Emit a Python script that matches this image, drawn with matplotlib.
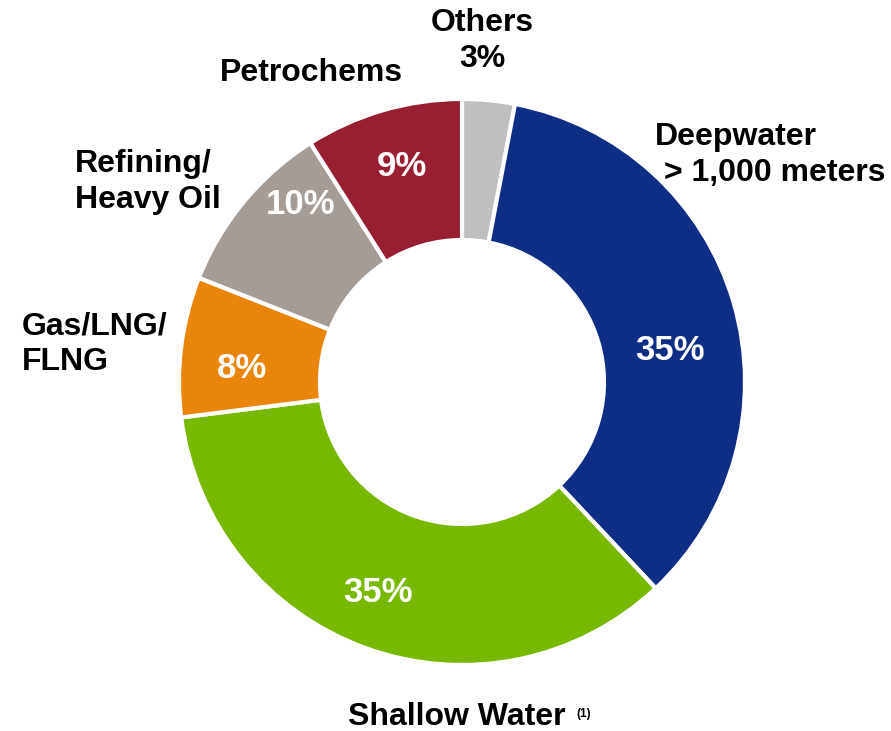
import matplotlib
matplotlib.use('Agg')
import matplotlib.pyplot as plt

# segment data, clockwise from 12 o'clock
segments = ['Others', 'Deepwater', 'Shallow Water', 'Gas/LNG/FLNG',
            'Refining/Heavy Oil', 'Petrochems']
shares = [3, 35, 35, 8, 10, 9]
colours = ['#BFBFBF', '#0E2D84', '#77B800', '#E8850A', '#A59D95', '#981E32']

W, H = 891, 731
plt.rcParams['font.family'] = ['Liberation Sans', 'DejaVu Sans']

fig = plt.figure(figsize=(W / 100.0, H / 100.0), dpi=100)
ax = fig.add_axes([0, 0, 1, 1])

ax.pie(shares, colors=colours, startangle=90, counterclock=False,
       center=(462, H - 382), radius=283, frame=True,
       wedgeprops=dict(width=141, edgecolor='white', linewidth=3))
ax.set_xlim(0, W)
ax.set_ylim(0, H)
ax.set_aspect('equal')
ax.axis('off')

def px(x, y):
    return x, H - y

# percentages inside the ring (pixel positions)
inner_pos = [None, (670, 350), (378, 593), (242, 368), (300, 205), (402, 167)]
for val, pos in zip(shares, inner_pos):
    if pos is None:
        continue
    ax.text(*px(*pos), '%d%%' % val, color='white', fontsize=25,
            fontweight='bold', ha='center', va='center')

# outer labels
lab = dict(fontsize=23, fontweight='bold', color='black', linespacing=1.25)
ax.text(*px(482, 41), 'Others\n%d%%' % shares[0], ha='center', va='center',
        **lab)
ax.text(*px(655, 155), 'Deepwater\n > 1,000 meters', ha='left', va='center',
        **lab)
ax.text(*px(75, 182), 'Refining/\nHeavy Oil', ha='left', va='center',
        **lab)
ax.text(*px(311, 73), 'Petrochems', ha='center', va='center', **lab)
ax.text(*px(22, 344), 'Gas/LNG/\nFLNG', ha='left', va='center',
        **lab)
ax.text(*px(566, 717), 'Shallow Water', ha='right', va='center', **lab)
ax.text(*px(576, 714), '(1)', ha='left', va='center', fontsize=8.5,
        fontweight='bold')

fig.savefig('out.png', dpi=100)
